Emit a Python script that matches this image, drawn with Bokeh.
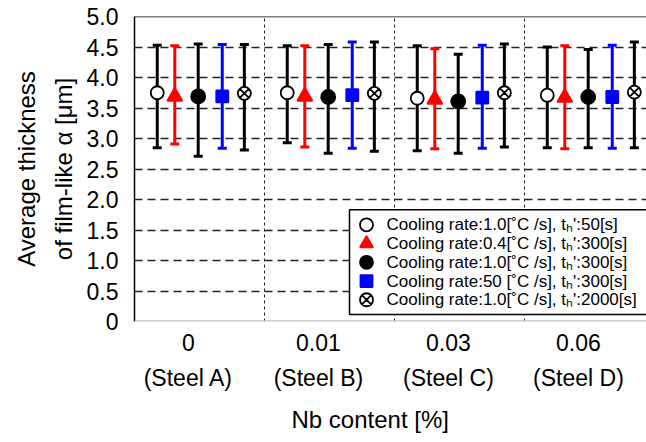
from bokeh.plotting import figure
from bokeh.models import (Range1d, FixedTicker, Whisker, TeeHead, ColumnDataSource,
                          Span, Title)
from bokeh.core.properties import value
from bokeh.embed import file_html
from bokeh.resources import INLINE

# Nb content of each steel and its name
nb_content = ["0", "0.01", "0.03", "0.06"]
steel_names = ["(Steel A)", "(Steel B)", "(Steel C)", "(Steel D)"]

# Average thickness of film-like alpha [um]: mean and upper / lower ends of the range
cr10_th50_mean = [3.75, 3.75, 3.66, 3.71]
cr10_th50_upper = [4.53, 4.52, 4.52, 4.50]
cr10_th50_lower = [2.85, 2.93, 2.80, 2.85]

cr04_th300_mean = [3.69, 3.69, 3.64, 3.67]
cr04_th300_upper = [4.52, 4.52, 4.47, 4.52]
cr04_th300_lower = [2.91, 2.86, 2.83, 2.83]

cr10_th300_mean = [3.69, 3.68, 3.61, 3.68]
cr10_th300_upper = [4.55, 4.54, 4.38, 4.46]
cr10_th300_lower = [2.71, 2.76, 2.76, 2.85]

cr50_th300_mean = [3.69, 3.71, 3.67, 3.68]
cr50_th300_upper = [4.54, 4.58, 4.53, 4.53]
cr50_th300_lower = [2.84, 2.84, 2.84, 2.84]

cr10_th2000_mean = [3.74, 3.74, 3.75, 3.76]
cr10_th2000_upper = [4.54, 4.58, 4.55, 4.58]
cr10_th2000_lower = [2.81, 2.79, 2.86, 2.85]

series_labels = [
    "Cooling rate:1.0[\u02daC /s], t\u2095':50[s]",
    "Cooling rate:0.4[\u02daC /s], t\u2095':300[s]",
    "Cooling rate:1.0[\u02daC /s], t\u2095':300[s]",
    "Cooling rate:50 [\u02daC /s], t\u2095':300[s]",
    "Cooling rate:1.0[\u02daC /s], t\u2095':2000[s]",
]

y_ticks = [0, 0.5, 1.0, 1.5, 2.0, 2.5, 3.0, 3.5, 4.0, 4.5, 5.0]

FONT = "Liberation Sans"

series = [
    (cr10_th50_mean, cr10_th50_upper, cr10_th50_lower),
    (cr04_th300_mean, cr04_th300_upper, cr04_th300_lower),
    (cr10_th300_mean, cr10_th300_upper, cr10_th300_lower),
    (cr50_th300_mean, cr50_th300_upper, cr50_th300_lower),
    (cr10_th2000_mean, cr10_th2000_upper, cr10_th2000_lower),
]

# marker, fill, outline, size, bar colour, offset inside the steel's slot
styles = [
    ("circle", "white", "black", 13, "black", -0.325),
    ("triangle", "red", "red", 15, "red", -0.19),
    ("circle", "black", "black", 14, "black", -0.01),
    ("square", "blue", "blue", 12, "blue", 0.175),
    ("circle_x", "white", "black", 13, "black", 0.345),
]

W, H = 646, 442
LEFT, TOP, BOTTOM = 134, 16, 120
FW, FH = W - LEFT, H - TOP - BOTTOM

p = figure(width=W, height=H, output_backend="svg", toolbar_location=None,
           x_range=Range1d(0, FW / 130.0), y_range=Range1d(0, 5.0),
           min_border_left=LEFT, min_border_right=0, min_border_top=TOP,
           min_border_bottom=BOTTOM, outline_line_color=None,
           background_fill_color="white", border_fill_color="white")

# pixel ranges for the legend block
p.extra_x_ranges = {"px": Range1d(0, FW)}
p.extra_y_ranges = {"px": Range1d(0, FH)}

# grid
p.ygrid.ticker = FixedTicker(ticks=y_ticks[1:-1])
p.ygrid.grid_line_color = "#222222"
p.ygrid.grid_line_dash = "8 5"
p.ygrid.grid_line_width = 1.3
p.xgrid.ticker = FixedTicker(ticks=[1, 2, 3])
p.xgrid.grid_line_color = "#222222"
p.xgrid.grid_line_dash = "3 3"
p.xgrid.grid_line_width = 1

# frame lines
p.add_layout(Span(location=5.0, dimension="width", line_color="black", line_width=1.5))
p.add_layout(Span(location=0, dimension="width", line_color="#c4c4c4", line_width=2.5))

# y axis
p.yaxis.ticker = FixedTicker(ticks=y_ticks)
p.yaxis.major_label_overrides = {t: ("0" if t == 0 else f"{t:.1f}") for t in y_ticks}
p.yaxis.major_tick_out = 0
p.yaxis.major_tick_in = 0
p.yaxis.minor_tick_out = 0
p.yaxis.minor_tick_in = 0
p.yaxis.axis_line_color = "black"
p.yaxis.axis_line_width = 1.5
p.yaxis.major_label_standoff = 16
p.yaxis.major_label_text_font = FONT
p.yaxis.major_label_text_font_size = "23px"
p.yaxis.major_label_text_color = "black"
p.yaxis.axis_label = "Average thickness\nof film-like \u03b1 [\u03bcm]"
p.yaxis.axis_label_text_font = FONT
p.yaxis.axis_label_text_font_size = "24px"
p.yaxis.axis_label_text_font_style = "normal"
p.yaxis.axis_label_text_color = "black"
p.yaxis.axis_label_text_line_height = 1.35
p.yaxis.axis_label_standoff = 7

# x axis: one slot per steel
x_label_pos = [i + 0.5 - 0.085 for i in range(len(nb_content))]
p.xaxis.ticker = FixedTicker(ticks=x_label_pos)
p.xaxis.major_label_overrides = {x: f"{c}\n{n}" for x, c, n in zip(x_label_pos, nb_content, steel_names)}
p.xaxis.major_tick_out = 0
p.xaxis.major_tick_in = 0
p.xaxis.minor_tick_out = 0
p.xaxis.minor_tick_in = 0
p.xaxis.axis_line_color = None
p.xaxis.major_label_standoff = 8
p.xaxis.major_label_text_font = FONT
p.xaxis.major_label_text_font_size = "23px"
p.xaxis.major_label_text_color = "black"
p.xaxis.major_label_text_line_height = 1.36

p.add_layout(Title(text="Nb content [%]", align="left", offset=157, standoff=20,
                   text_font=FONT, text_font_size="24px", text_font_style="normal",
                   text_color="black"), "below")

# error bars and means
for (mean, upper, lower), (marker, fill, line, size, bar, off) in zip(series, styles):
    xs = [i + 0.5 + off for i in range(len(nb_content))]
    src = ColumnDataSource(dict(x=xs, mean=mean, upper=upper, lower=lower))
    p.add_layout(Whisker(base="x", upper="upper", lower="lower", source=src,
                         dimension="height", line_color=bar, line_width=3,
                         upper_head=TeeHead(size=9, line_color=bar, line_width=3),
                         lower_head=TeeHead(size=9, line_color=bar, line_width=3)))
    p.scatter("x", "mean", source=src, marker=marker, size=size, fill_color=fill,
              line_color=line, line_width=1.8)

# legend block
p.quad(left=215, right=FW + 40, bottom=7, top=112, x_range_name="px", y_range_name="px",
       fill_color="white", line_color="black", line_width=1.5)
row_y = [97 - 18.8 * k for k in range(len(series_labels))]
for k, (marker, fill, line, size, bar, off) in enumerate(styles):
    p.scatter(x=[232], y=[row_y[k]], x_range_name="px", y_range_name="px",
              marker=marker, size=min(size, 13), fill_color=fill, line_color=line,
              line_width=1.8)
p.text(x=[252] * len(series_labels), y=row_y, text=series_labels,
       x_range_name="px", y_range_name="px", text_font=value(FONT),
       text_font_size="17px", text_baseline="middle", text_color="black")

open("out.html", "w").write(file_html(p, INLINE))
